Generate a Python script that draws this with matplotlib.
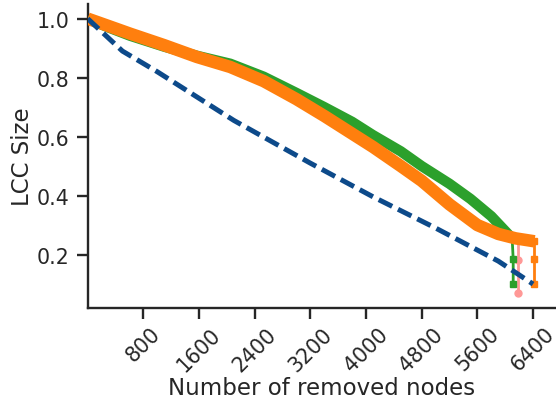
import matplotlib
matplotlib.use("Agg")
import matplotlib.pyplot as plt

# values
green_x = [0, 300, 610, 1100, 1570, 2050, 2530, 3000, 3400, 3800, 4100, 4500, 4800, 5200, 5500, 5800, 6100]
green_y = [1.0, 0.97, 0.942, 0.905, 0.874, 0.847, 0.803, 0.748, 0.70, 0.65, 0.605, 0.55, 0.50, 0.44, 0.389, 0.33, 0.255]
green_tail_x = [6100, 6115, 6115]
green_tail_y = [0.255, 0.184, 0.101]

pink_x = [0, 300, 610, 1100, 1570, 2050, 2530, 3000, 3400, 3800, 4100, 4500, 4800, 5200, 5500, 5800, 6100, 6186]
pink_y = [1.0, 0.973, 0.946, 0.909, 0.878, 0.851, 0.808, 0.753, 0.706, 0.656, 0.611, 0.556, 0.506, 0.446, 0.395, 0.336, 0.262, 0.25]
pink_tail_x = [6186, 6186, 6186]
pink_tail_y = [0.25, 0.182, 0.069]

orange_x = [0, 300, 610, 1100, 1570, 2050, 2530, 3000, 3400, 3800, 4100, 4500, 4800, 5200, 5600, 5900, 6150, 6420]
orange_y = [1.0, 0.975, 0.949, 0.91, 0.87, 0.836, 0.788, 0.727, 0.67, 0.61, 0.565, 0.50, 0.45, 0.37, 0.30, 0.27, 0.255, 0.245]
orange_tail_x = [6416, 6416, 6416]
orange_tail_y = [0.245, 0.184, 0.10]

blue_x = [0, 500, 1000, 2100, 3200, 4100, 5000, 5900, 6400]
blue_y = [1.0, 0.89, 0.82, 0.655, 0.51, 0.396, 0.29, 0.178, 0.10]

xticks = [800, 1600, 2400, 3200, 4000, 4800, 5600, 6400]
yticks = [0.2, 0.4, 0.6, 0.8, 1.0]

dark = "#262626"
plt.rcParams["font.family"] = "DejaVu Sans"
plt.rcParams["text.color"] = dark
plt.rcParams["axes.labelcolor"] = dark
plt.rcParams["xtick.color"] = dark
plt.rcParams["ytick.color"] = dark

fig = plt.figure(figsize=(5.56, 4.06), dpi=100)
ax = fig.add_axes([0.1576, 0.239, 0.8424, 0.749])

ax.plot(pink_x, pink_y, color="#ff9896", lw=2.5, solid_capstyle="butt",
        solid_joinstyle="round", zorder=2)
ax.plot(pink_tail_x, pink_tail_y, color="#ff9896", lw=2, marker="o", ms=5, zorder=2)

ax.plot(green_x, green_y, color="#2ca02c", lw=7.5, solid_capstyle="butt",
        solid_joinstyle="round", zorder=3)
ax.plot(green_tail_x, green_tail_y, color="#2ca02c", lw=2, marker="s", ms=5, zorder=3)

ax.plot(orange_x, orange_y, color="#ff7f0e", lw=9, solid_capstyle="butt",
        solid_joinstyle="round", zorder=4)
ax.plot(orange_tail_x, orange_tail_y, color="#ff7f0e", lw=2, marker="s", ms=5, zorder=4)

ax.plot(blue_x, blue_y, color="#0d4a8a", lw=3.6, linestyle=(0, (3.0, 1.3)),
        dash_capstyle="butt", zorder=5)

ax.set_xlim(0, 6730)
ax.set_ylim(0.019, 1.05)
ax.set_xticks(xticks)
ax.set_yticks(yticks)
ax.set_xticklabels([str(t) for t in xticks], rotation=45, ha="center")
ax.set_yticklabels([f"{t:.1f}" for t in yticks])
ax.tick_params(labelsize=14.8, length=8, width=1.7)
ax.tick_params(axis="x", pad=3)
ax.tick_params(axis="y", pad=5)

ax.set_xlabel("Number of removed nodes", fontsize=16.5, labelpad=1)
ax.set_ylabel("LCC Size", fontsize=16.5, labelpad=2)

for side in ["top", "right"]:
    ax.spines[side].set_visible(False)
for side in ["left", "bottom"]:
    ax.spines[side].set_linewidth(1.7)
    ax.spines[side].set_color(dark)

fig.savefig("out.png", dpi=100)
plt.close(fig)
